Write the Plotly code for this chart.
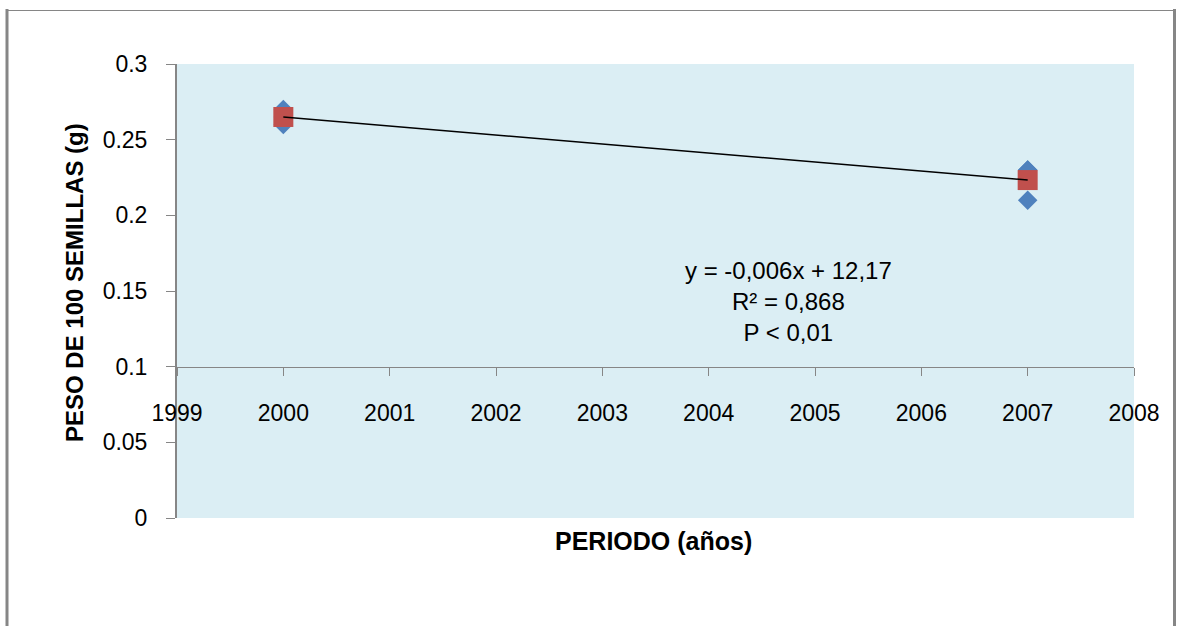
import numpy as np
import plotly.graph_objects as go

# Data
years_obs = [2000, 2000, 2000, 2007, 2007, 2007]
peso_obs = [0.27, 0.265, 0.26, 0.23, 0.23, 0.21]
years_mean = [2000, 2007]
peso_mean = [0.265, 0.2233]
y_ticks = [0, 0.05, 0.1, 0.15, 0.2, 0.25, 0.3]
y_ticklabels = ["0", "0.05", "0.1", "0.15", "0.2", "0.25", "0.3"]
x_ticks = [1999, 2000, 2001, 2002, 2003, 2004, 2005, 2006, 2007, 2008]
eq_text = "y = -0,006x + 12,17<br>R² = 0,868<br>P < 0,01"

slope, intercept = np.polyfit(years_obs, peso_obs, 1)
trend_x = [min(years_mean), max(years_mean)]
trend_y = [slope * v + intercept for v in trend_x]

fig = go.Figure()
fig.add_trace(go.Scatter(x=years_obs, y=peso_obs, mode="markers",
                         marker=dict(symbol="diamond", size=15, color="#4F81BD"),
                         showlegend=False))
fig.add_trace(go.Scatter(x=years_mean, y=peso_mean, mode="markers",
                         marker=dict(symbol="square", size=20, color="#C0504D"),
                         showlegend=False))
fig.add_trace(go.Scatter(x=trend_x, y=trend_y, mode="lines",
                         line=dict(color="black", width=1.5), showlegend=False))

axis_grey = "#868686"
fig.update_layout(
    width=1177, height=626,
    margin=dict(l=177, r=43, t=64, b=108),
    paper_bgcolor="white",
    plot_bgcolor="#DBEEF4",
    font=dict(family="Liberation Sans, Arial", color="black"),
    xaxis=dict(range=[1999, 2008], tickvals=x_ticks, anchor="free", position=1/3,
               showgrid=False, zeroline=False, showline=True, linecolor=axis_grey,
               linewidth=1, ticks="outside", ticklen=8, tickcolor=axis_grey,
               tickfont=dict(size=23, family="Liberation Sans, Arial", color="black"),
               ticklabelstandoff=18),
    yaxis=dict(range=[0, 0.3], tickvals=y_ticks, ticktext=y_ticklabels,
               showgrid=False, zeroline=False, showline=True, linecolor=axis_grey,
               linewidth=2, ticks="outside", ticklen=9, tickcolor=axis_grey,
               tickfont=dict(size=23, family="Liberation Sans, Arial", color="black"),
               ticklabelstandoff=14),
    annotations=[
        dict(text="<b>PERIODO (años)</b>", xref="paper", yref="paper",
             x=(653 - 177) / 957, y=(518 - 541) / 454, showarrow=False,
             xanchor="center", yanchor="middle",
             font=dict(size=25, family="Liberation Sans, Arial", color="black")),
        dict(text="<b>PESO DE 100 SEMILLAS (g)</b>", xref="paper", yref="paper",
             x=(74 - 177) / 957, y=(518 - 283) / 454, showarrow=False,
             textangle=-90, xanchor="center", yanchor="middle",
             font=dict(size=24, family="Liberation Sans, Arial", color="black")),
        dict(text=eq_text, xref="paper", yref="paper",
             x=(788 - 177) / 957, y=(518 - 301) / 454, showarrow=False,
             xanchor="center", yanchor="middle", align="center",
             font=dict(size=24, family="Liberation Sans, Arial", color="black")),
    ],
    shapes=[
        dict(type="line", xref="paper", yref="paper",
             x0=(7 - 177) / 957, x1=(7 - 177) / 957,
             y0=(518 - 9) / 454, y1=(518 - 660) / 454,
             line=dict(color=axis_grey, width=3)),
        dict(type="line", xref="paper", yref="paper",
             x0=(1174.5 - 177) / 957, x1=(1174.5 - 177) / 957,
             y0=(518 - 9) / 454, y1=(518 - 660) / 454,
             line=dict(color=axis_grey, width=3)),
        dict(type="line", xref="paper", yref="paper",
             x0=(6 - 177) / 957, x1=(1176 - 177) / 957,
             y0=(518 - 10.5) / 454, y1=(518 - 10.5) / 454,
             line=dict(color=axis_grey, width=1)),
    ],
)

fig.write_html("out.html", config={"displayModeBar": False},
               post_script="document.body.style.margin='0';document.body.style.overflow='hidden';")
